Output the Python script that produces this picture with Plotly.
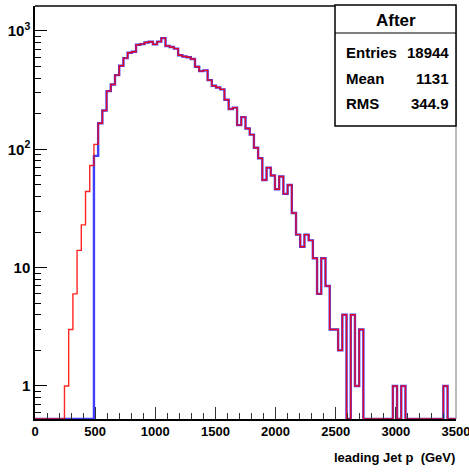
import numpy as np
import plotly.graph_objects as go

# ---------------- data (35 GeV bins from 0 to 3500) ----------------
bin_width = 35.0
x_lo, x_hi = 0.0, 3500.0

# "Before" histogram (red)
before_counts = [
    0, 0, 0, 0, 0, 0, 0, 1, 3, 6,
    14, 23, 44, 73, 110, 166, 213, 310, 353, 424,
    508, 590, 655, 668, 766, 775, 800, 810, 770, 813,
    870, 746, 733, 710, 624, 608, 600, 579, 499, 458,
    465, 384, 344, 333, 321, 262, 219, 225, 160, 187,
    150, 133, 103, 84, 55, 70, 60, 46, 59, 42,
    50, 29, 19, 15, 19, 17, 12, 6, 12, 7,
    3, 3, 2, 4, 0, 4, 1, 3, 0, 0,
    0, 0, 0, 0, 0, 1, 0, 1, 0, 0,
    0, 0, 0, 0, 0, 0, 0, 1, 0, 0,
]

# "After" histogram (blue)
after_counts = [
    0, 0, 0, 0, 0, 0, 0, 0, 0, 0,
    0, 0, 0, 0, 88, 166, 213, 310, 353, 424,
    508, 590, 655, 668, 766, 775, 800, 810, 770, 813,
    870, 746, 733, 710, 624, 608, 600, 579, 499, 458,
    465, 384, 344, 333, 321, 262, 219, 225, 160, 187,
    150, 133, 103, 84, 55, 70, 60, 46, 59, 42,
    50, 29, 19, 15, 19, 17, 12, 6, 12, 7,
    3, 3, 2, 4, 0, 4, 1, 3, 0, 0,
    0, 0, 0, 0, 0, 1, 0, 1, 0, 0,
    0, 0, 0, 0, 0, 0, 0, 1, 0, 0,
]

stats_title = "After"
stats_labels = ["Entries", "Mean", "RMS"]
stats_values = ["18944", "1131", "344.9"]

x_tick_vals = [0, 500, 1000, 1500, 2000, 2500, 3000, 3500]
y_tick_vals = [1, 10, 100, 1000]
y_tick_text = ["1", "10", "10<sup>2</sup>", "10<sup>3</sup>"]
x_title = "leading Jet p\u00a0\u00a0(GeV)"

# ---------------- geometry ----------------
W, H = 469, 475
ml, mr, mt, mb = 35, 13, 6, 56
y_min, y_max = 0.526, 1626.0

edges = np.arange(len(before_counts) + 1) * bin_width


def step_y(counts):
    c = np.asarray(counts, dtype=float)
    c = np.where(c > 0, c, y_min)  # empty bins drawn on the frame bottom
    return np.append(c, c[-1])


FONT = "Liberation Sans, Arial, Helvetica, sans-serif"

fig = go.Figure()
fig.add_trace(go.Scatter(
    x=edges, y=step_y(after_counts), mode="lines", line_shape="hv",
    line=dict(color="#0000ff", width=2.4), opacity=0.75, showlegend=False,
    hoverinfo="skip",
))
fig.add_trace(go.Scatter(
    x=edges, y=step_y(before_counts), mode="lines", line_shape="hv",
    line=dict(color="#ff0000", width=1.4), opacity=0.85, showlegend=False,
    hoverinfo="skip",
))

minor_y = [m * 10 ** k for k in range(-1, 4) for m in range(2, 10)
           if y_min < m * 10 ** k < y_max]

fig.update_xaxes(
    range=[x_lo, x_hi], tickmode="array", tickvals=x_tick_vals,
    ticks="inside", ticklen=12, tickwidth=1, tickcolor="#333",
    minor=dict(ticks="inside", ticklen=6, tickcolor="#333", dtick=100, tick0=0),
    showline=True, linecolor="black", linewidth=1.5, mirror=False,
    showgrid=False, zeroline=False, automargin=False, ticklabeloverflow="allow",
    tickfont=dict(family=FONT, size=13, color="black", weight="bold"),
)
fig.update_yaxes(
    type="log", range=[np.log10(y_min), np.log10(y_max)],
    tickmode="array", tickvals=y_tick_vals, ticktext=y_tick_text,
    ticks="inside", ticklen=12, tickwidth=1, tickcolor="black",
    minor=dict(ticks="inside", ticklen=6, tickcolor="black",
               tickmode="array", tickvals=minor_y),
    showline=True, linecolor="black", linewidth=1.5, mirror=False,
    showgrid=False, zeroline=False, automargin=False, ticklabeloverflow="allow",
    tickfont=dict(family=FONT, size=15, color="black", weight="bold"),
)

# frame: top and right borders
shapes = [
    dict(type="line", xref="paper", yref="paper", x0=0, x1=1, y0=1, y1=1,
         line=dict(color="#444", width=2)),
    dict(type="line", xref="paper", yref="paper", x0=1, x1=1, y0=0, y1=1,
         line=dict(color="#777", width=1)),
]

pw, ph = W - ml - mr, H - mt - mb


def px_x(px):
    return (px - ml) / pw


def px_y(py):
    return (H - mb - py) / ph


# stats box
box_l, box_r, box_t, box_b, box_div = 335, 456, 5, 126, 33
shapes.append(dict(type="rect", xref="paper", yref="paper",
                   x0=px_x(box_l), x1=px_x(box_r), y0=px_y(box_b), y1=px_y(box_t),
                   line=dict(color="black", width=1.5), fillcolor="white", layer="above"))
shapes.append(dict(type="line", xref="paper", yref="paper",
                   x0=px_x(box_l), x1=px_x(box_r), y0=px_y(box_div), y1=px_y(box_div),
                   line=dict(color="black", width=1.2), layer="above"))

annotations = [dict(
    text=stats_title, xref="paper", yref="paper",
    x=px_x((box_l + box_r) / 2), y=px_y(20), xanchor="center", yanchor="middle",
    showarrow=False, font=dict(family=FONT, size=17, color="black", weight="bold"),
)]
rows_y = [53, 78, 103]
for lab, val, ry in zip(stats_labels, stats_values, rows_y):
    annotations.append(dict(text=lab, xref="paper", yref="paper", x=px_x(344), y=px_y(ry),
                            xanchor="left", yanchor="middle", showarrow=False,
                            font=dict(family=FONT, size=15, color="black", weight="bold")))
    annotations.append(dict(text=val, xref="paper", yref="paper", x=px_x(451), y=px_y(ry),
                            xanchor="right", yanchor="middle", showarrow=False,
                            font=dict(family=FONT, size=15, color="black", weight="bold")))

annotations.append(dict(text=x_title, xref="paper", yref="paper", x=px_x(457), y=px_y(457),
                        xanchor="right", yanchor="middle", showarrow=False,
                        font=dict(family=FONT, size=13, color="black", weight="bold")))

fig.update_layout(
    width=W, height=H, margin=dict(l=ml, r=mr, t=mt, b=mb, pad=0),
    paper_bgcolor="white", plot_bgcolor="white",
    shapes=shapes, annotations=annotations, showlegend=False,
)

fig.write_html(
    "out.html",
    config={"displayModeBar": False},
    post_script="document.body.style.margin='0';document.body.style.padding='0';",
)
